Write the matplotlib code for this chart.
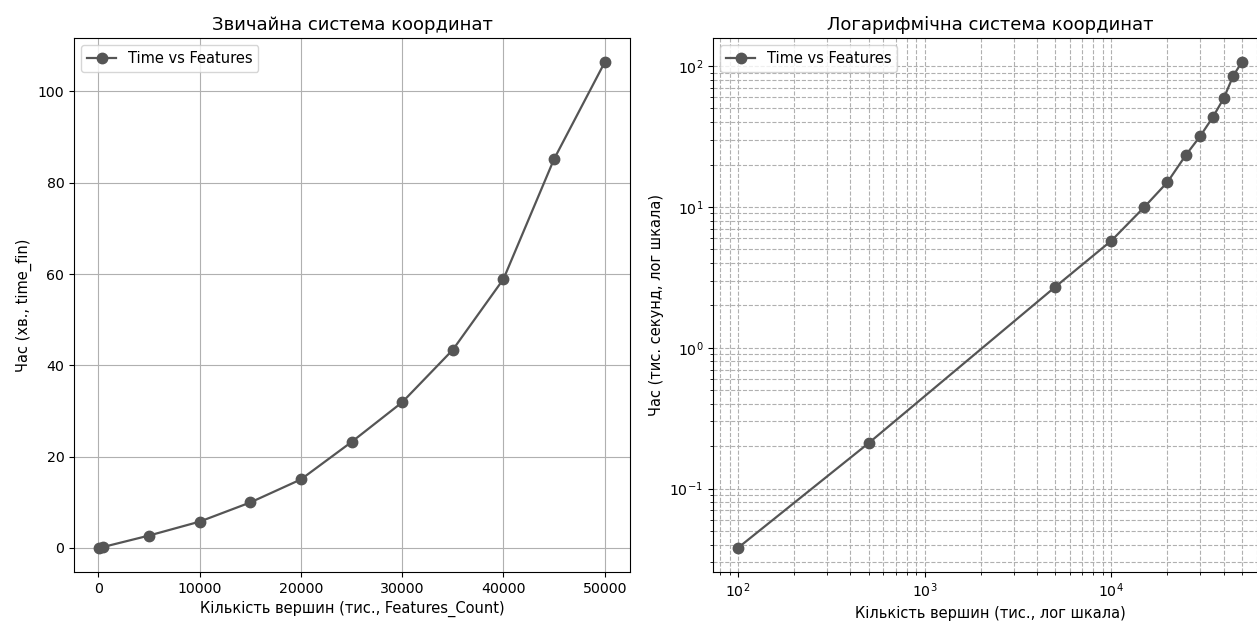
import matplotlib
matplotlib.use('Agg')
import matplotlib.pyplot as plt

# кількість вершин
features_count = [100, 500, 5000, 10000, 15000, 20000, 25000, 30000, 35000, 40000, 45000, 50000]
# час виконання
time_fin = [0.038, 0.21, 2.7, 5.75, 9.95, 15.0, 23.2, 31.9, 43.4, 58.9, 85.2, 106.4]

line_color = '#555555'
plt.rcParams['font.size'] = 10.5

fig = plt.figure(figsize=(12.57, 6.22), dpi=100)
ax1 = fig.add_axes([0.0589, 0.0804, 0.4423, 0.8585])
ax2 = fig.add_axes([0.5672, 0.0804, 0.4407, 0.8585])

# звичайна шкала
ax1.plot(features_count, time_fin, marker='o', color=line_color,
         linewidth=1.6, markersize=7.5, label='Time vs Features')
ax1.set_title('Звичайна система координат', fontsize=13)
ax1.set_xlabel('Кількість вершин (тис., Features_Count)')
ax1.set_ylabel('Час (хв., time_fin)')
ax1.tick_params(labelsize=10.2)
ax1.grid(True)
ax1.legend(loc='upper left')

# логарифмічна шкала
ax2.plot(features_count, time_fin, marker='o', color=line_color,
         linewidth=1.6, markersize=7.5, label='Time vs Features')
ax2.set_xscale('log')
ax2.set_yscale('log')
ax2.set_title('Логарифмічна система координат', fontsize=13)
ax2.set_xlabel('Кількість вершин (тис., лог шкала)')
ax2.set_ylabel('Час (тис. секунд, лог шкала)')
ax2.tick_params(labelsize=10.2)
ax2.grid(True, which='both', linestyle='--')
ax2.legend(loc='upper left')

fig.savefig('out.png', dpi=100)
